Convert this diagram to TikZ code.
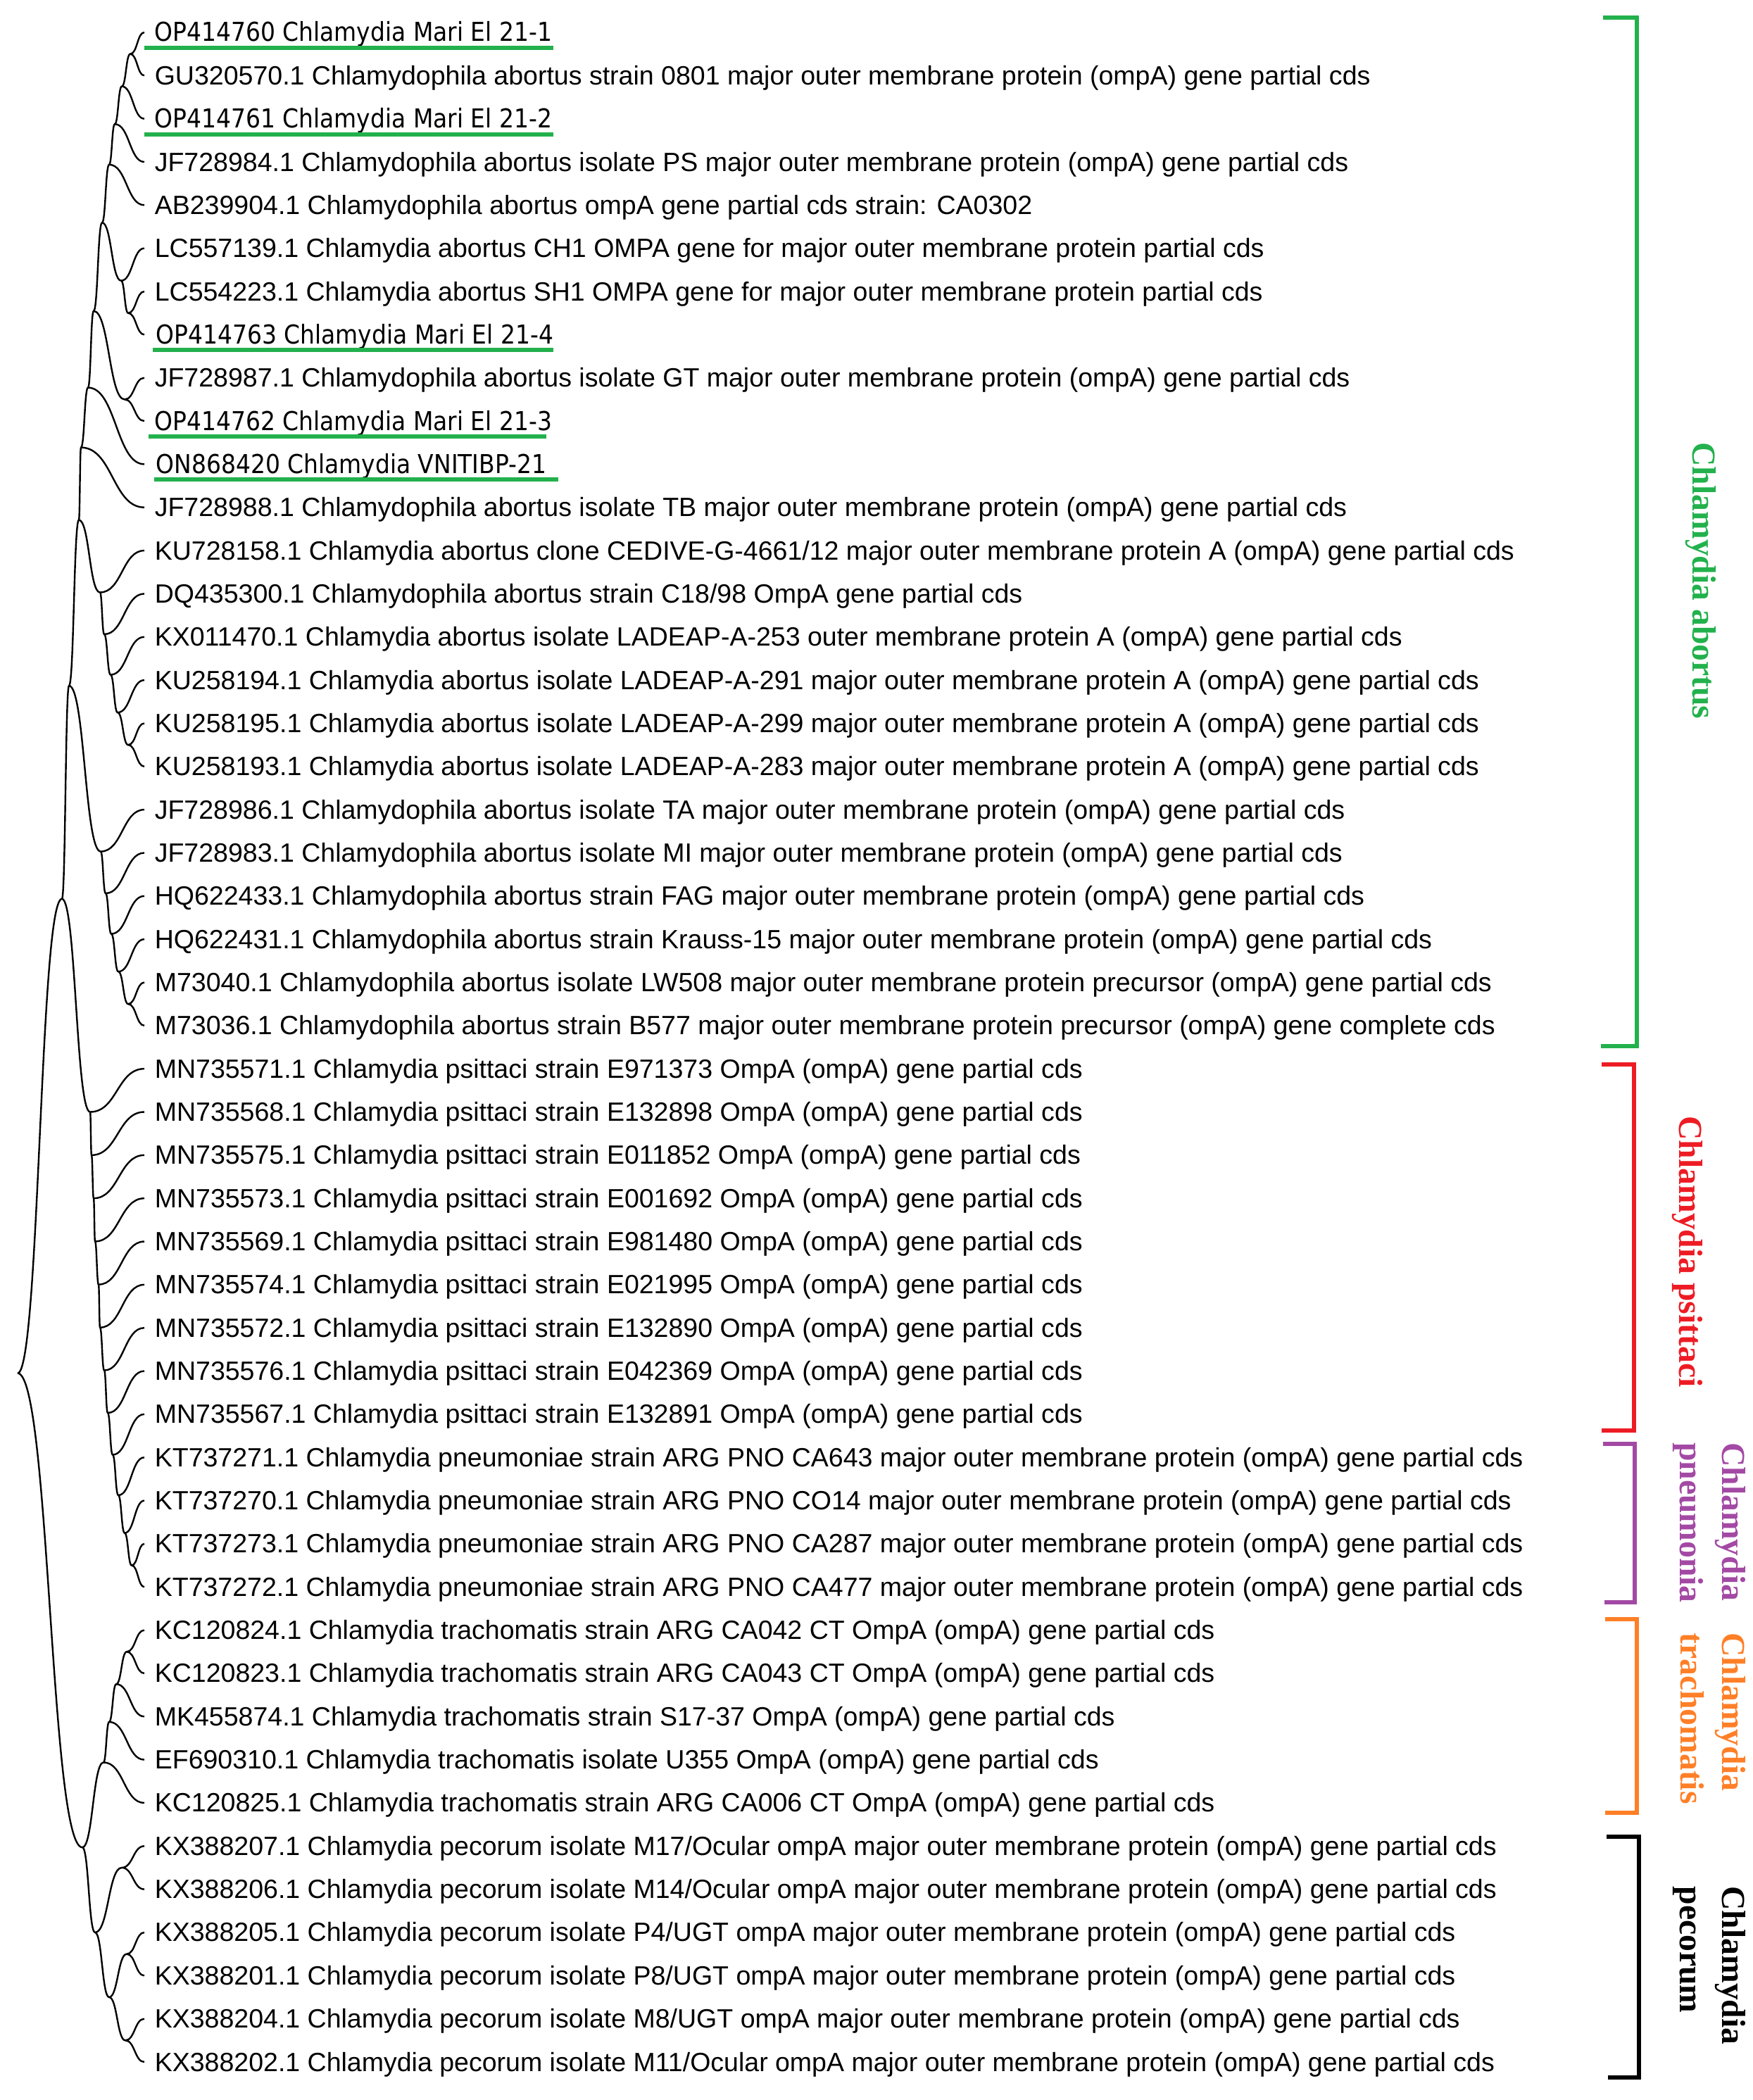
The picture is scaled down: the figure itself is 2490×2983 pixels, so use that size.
\documentclass[tikz,border=0pt]{standalone}
\usepackage{fontspec}
\setmainfont{Liberation Sans}
\newfontfamily\opfont[FakeStretch=0.89]{DejaVu Sans}
\newfontfamily\cladefont{Liberation Serif}
\usetikzlibrary{calc}
\definecolor{cgreen}{HTML}{22B14C}
\definecolor{cred}{HTML}{ED1C24}
\definecolor{cpurple}{HTML}{A349A4}
\definecolor{corange}{HTML}{FF7F27}
\begin{document}
\begin{tikzpicture}[x=0.25pt,y=-0.25pt,
  declare function={R(\k)=46+(\k-1)*61.34;},
  tree/.style={line width=0.6pt,black},
  br/.style={to path={let \p1=(\tikztostart), \p2=(\tikztotarget) in
     .. controls ({0.5*\x1+0.5*\x2},\y1) and ({0.5*\x1+0.5*\x2},\y2) .. (\tikztotarget)}},
  tip/.style={anchor=base west,inner sep=0pt,font=\fontsize{9.38pt}{11pt}\selectfont},
  optip/.style={anchor=base west,inner sep=0pt,font=\fontsize{9.25pt}{11pt}\opfont},
  uline/.style={cgreen,line width=1.5pt},
  brk/.style={line width=1.6pt,line join=miter},
  clade/.style={rotate=-90,inner sep=0pt,align=left,font=\fontsize{11.9pt}{14.8pt}\cladefont\bfseries}]
\useasboundingbox (0,0) rectangle (2490,2983);
% leaf ends
\foreach \k in {1,...,48} \coordinate (v\k) at (205,{R(\k)});
% internal nodes
\coordinate (a1) at (185,{R(1.5)});
\coordinate (a2) at (173,{R(2.25)});
\coordinate (a3) at (163,{R(3.125)});
\coordinate (a4) at (155,{R(4.0625)});
\coordinate (b1) at (182,{R(7.5)});
\coordinate (b2) at (172,{R(6.75)});
\coordinate (a5) at (145,{R(5.40625)});
\coordinate (b3) at (177,{R(9.5)});
\coordinate (a6) at (133,{R(7.453)});
\coordinate (a7) at (125,{R(9.2266)});
\coordinate (a8) at (115,{R(10.613)});
\coordinate (c1) at (182,{R(17.5)});
\coordinate (c2) at (167,{R(16.75)});
\coordinate (c3) at (157,{R(15.875)});
\coordinate (c4) at (148,{R(14.9375)});
\coordinate (c5) at (142,{R(13.96875)});
\coordinate (a9) at (112,{R(12.291)});
\coordinate (d1) at (182,{R(23.5)});
\coordinate (d2) at (168,{R(22.75)});
\coordinate (d3) at (158,{R(21.875)});
\coordinate (d4) at (150,{R(20.9375)});
\coordinate (d5) at (143,{R(19.96875)});
\coordinate (a10) at (98,{R(16.13)});
\coordinate (e12) at (187,{R(36.5)});
\coordinate (e11) at (177,{R(35.75)});
\coordinate (e10) at (168,{R(34.875)});
\coordinate (e9) at (160,{R(33.9375)});
\coordinate (e8) at (153,{R(32.96875)});
\coordinate (e7) at (148,{R(31.984)});
\coordinate (e6) at (142,{R(30.992)});
\coordinate (e5) at (140,{R(29.996)});
\coordinate (e4) at (135,{R(28.998)});
\coordinate (e3) at (133,{R(27.999)});
\coordinate (e2) at (130,{R(27.0)});
\coordinate (e1) at (128,{R(26.0)});
\coordinate (a11) at (88,{R(21.065)});
\coordinate (t1) at (180,{R(38.5)});
\coordinate (t2) at (165,{R(39.25)});
\coordinate (t3) at (155,{R(40.125)});
\coordinate (t4) at (147,{R(41.0625)});
\coordinate (p1) at (173,{R(43.5)});
\coordinate (p2) at (180,{R(45.5)});
\coordinate (p3) at (178,{R(47.5)});
\coordinate (p4) at (155,{R(46.5)});
\coordinate (p5) at (135,{R(45.0)});
\coordinate (bb) at (117,{R(43.03)});
\coordinate (root) at (25,{R(32.05)});
% branches
\draw[tree] (a1) to[br] (v1) (a1) to[br] (v2)
  (a2) to[br] (a1) (a2) to[br] (v3)
  (a3) to[br] (a2) (a3) to[br] (v4)
  (a4) to[br] (a3) (a4) to[br] (v5)
  (b1) to[br] (v7) (b1) to[br] (v8)
  (b2) to[br] (b1) (b2) to[br] (v6)
  (a5) to[br] (a4) (a5) to[br] (b2)
  (b3) to[br] (v9) (b3) to[br] (v10)
  (a6) to[br] (a5) (a6) to[br] (b3)
  (a7) to[br] (a6) (a7) to[br] (v11)
  (a8) to[br] (a7) (a8) to[br] (v12)
  (c1) to[br] (v17) (c1) to[br] (v18)
  (c2) to[br] (c1) (c2) to[br] (v16)
  (c3) to[br] (c2) (c3) to[br] (v15)
  (c4) to[br] (c3) (c4) to[br] (v14)
  (c5) to[br] (c4) (c5) to[br] (v13)
  (a9) to[br] (a8) (a9) to[br] (c5)
  (d1) to[br] (v23) (d1) to[br] (v24)
  (d2) to[br] (d1) (d2) to[br] (v22)
  (d3) to[br] (d2) (d3) to[br] (v21)
  (d4) to[br] (d3) (d4) to[br] (v20)
  (d5) to[br] (d4) (d5) to[br] (v19)
  (a10) to[br] (a9) (a10) to[br] (d5)
  (e12) to[br] (v36) (e12) to[br] (v37)
  (e11) to[br] (e12) (e11) to[br] (v35)
  (e10) to[br] (e11) (e10) to[br] (v34)
  (e9) to[br] (e10) (e9) to[br] (v33)
  (e8) to[br] (e9) (e8) to[br] (v32)
  (e7) to[br] (e8) (e7) to[br] (v31)
  (e6) to[br] (e7) (e6) to[br] (v30)
  (e5) to[br] (e6) (e5) to[br] (v29)
  (e4) to[br] (e5) (e4) to[br] (v28)
  (e3) to[br] (e4) (e3) to[br] (v27)
  (e2) to[br] (e3) (e2) to[br] (v26)
  (e1) to[br] (e2) (e1) to[br] (v25)
  (a11) to[br] (a10) (a11) to[br] (e1)
  (t1) to[br] (v38) (t1) to[br] (v39)
  (t2) to[br] (t1) (t2) to[br] (v40)
  (t3) to[br] (t2) (t3) to[br] (v41)
  (t4) to[br] (t3) (t4) to[br] (v42)
  (p1) to[br] (v43) (p1) to[br] (v44)
  (p2) to[br] (v45) (p2) to[br] (v46)
  (p3) to[br] (v47) (p3) to[br] (v48)
  (p4) to[br] (p2) (p4) to[br] (p3)
  (p5) to[br] (p1) (p5) to[br] (p4)
  (bb) to[br] (t4) (bb) to[br] (p5)
  (root) to[br] (a11) (root) to[br] (bb);
% tip labels
\node[optip] (L1) at (219,{R(1)+13}) {OP414760 Chlamydia Mari El 21-1};
\node[tip] (L2) at (219,{R(2)+13}) {GU320570.1 Chlamydophila abortus strain 0801 major outer membrane protein (ompA) gene partial cds};
\node[optip] (L3) at (219,{R(3)+13}) {OP414761 Chlamydia Mari El 21-2};
\node[tip] (L4) at (219,{R(4)+13}) {JF728984.1 Chlamydophila abortus isolate PS major outer membrane protein (ompA) gene partial cds};
\node[tip] (L5) at (219,{R(5)+13}) {AB239904.1 Chlamydophila abortus ompA gene partial cds strain: CA0302};
\node[tip] (L6) at (219,{R(6)+13}) {LC557139.1 Chlamydia abortus CH1 OMPA gene for major outer membrane protein partial cds};
\node[tip] (L7) at (219,{R(7)+13}) {LC554223.1 Chlamydia abortus SH1 OMPA gene for major outer membrane protein partial cds};
\node[optip] (L8) at (221,{R(8)+13}) {OP414763 Chlamydia Mari El 21-4};
\node[tip] (L9) at (219,{R(9)+13}) {JF728987.1 Chlamydophila abortus isolate GT major outer membrane protein (ompA) gene partial cds};
\node[optip] (L10) at (219,{R(10)+13}) {OP414762 Chlamydia Mari El 21-3};
\node[optip] (L11) at (221,{R(11)+13}) {ON868420 Chlamydia VNITIBP-21};
\node[tip] (L12) at (219,{R(12)+13}) {JF728988.1 Chlamydophila abortus isolate TB major outer membrane protein (ompA) gene partial cds};
\node[tip] (L13) at (219,{R(13)+13}) {KU728158.1 Chlamydia abortus clone CEDIVE-G-4661/12 major outer membrane protein A (ompA) gene partial cds};
\node[tip] (L14) at (219,{R(14)+13}) {DQ435300.1 Chlamydophila abortus strain C18/98 OmpA gene partial cds};
\node[tip] (L15) at (219,{R(15)+13}) {KX011470.1 Chlamydia abortus isolate LADEAP-A-253 outer membrane protein A (ompA) gene partial cds};
\node[tip] (L16) at (219,{R(16)+13}) {KU258194.1 Chlamydia abortus isolate LADEAP-A-291 major outer membrane protein A (ompA) gene partial cds};
\node[tip] (L17) at (219,{R(17)+13}) {KU258195.1 Chlamydia abortus isolate LADEAP-A-299 major outer membrane protein A (ompA) gene partial cds};
\node[tip] (L18) at (219,{R(18)+13}) {KU258193.1 Chlamydia abortus isolate LADEAP-A-283 major outer membrane protein A (ompA) gene partial cds};
\node[tip] (L19) at (219,{R(19)+13}) {JF728986.1 Chlamydophila abortus isolate TA major outer membrane protein (ompA) gene partial cds};
\node[tip] (L20) at (219,{R(20)+13}) {JF728983.1 Chlamydophila abortus isolate MI major outer membrane protein (ompA) gene partial cds};
\node[tip] (L21) at (219,{R(21)+13}) {HQ622433.1 Chlamydophila abortus strain FAG major outer membrane protein (ompA) gene partial cds};
\node[tip] (L22) at (219,{R(22)+13}) {HQ622431.1 Chlamydophila abortus strain Krauss-15 major outer membrane protein (ompA) gene partial cds};
\node[tip] (L23) at (219,{R(23)+13}) {M73040.1 Chlamydophila abortus isolate LW508 major outer membrane protein precursor (ompA) gene partial cds};
\node[tip] (L24) at (219,{R(24)+13}) {M73036.1 Chlamydophila abortus strain B577 major outer membrane protein precursor (ompA) gene complete cds};
\node[tip] (L25) at (219,{R(25)+13}) {MN735571.1 Chlamydia psittaci strain E971373 OmpA (ompA) gene partial cds};
\node[tip] (L26) at (219,{R(26)+13}) {MN735568.1 Chlamydia psittaci strain E132898 OmpA (ompA) gene partial cds};
\node[tip] (L27) at (219,{R(27)+13}) {MN735575.1 Chlamydia psittaci strain E011852 OmpA (ompA) gene partial cds};
\node[tip] (L28) at (219,{R(28)+13}) {MN735573.1 Chlamydia psittaci strain E001692 OmpA (ompA) gene partial cds};
\node[tip] (L29) at (219,{R(29)+13}) {MN735569.1 Chlamydia psittaci strain E981480 OmpA (ompA) gene partial cds};
\node[tip] (L30) at (219,{R(30)+13}) {MN735574.1 Chlamydia psittaci strain E021995 OmpA (ompA) gene partial cds};
\node[tip] (L31) at (219,{R(31)+13}) {MN735572.1 Chlamydia psittaci strain E132890 OmpA (ompA) gene partial cds};
\node[tip] (L32) at (219,{R(32)+13}) {MN735576.1 Chlamydia psittaci strain E042369 OmpA (ompA) gene partial cds};
\node[tip] (L33) at (219,{R(33)+13}) {MN735567.1 Chlamydia psittaci strain E132891 OmpA (ompA) gene partial cds};
\node[tip] (L34) at (219,{R(34)+13}) {KT737271.1 Chlamydia pneumoniae strain ARG PNO CA643 major outer membrane protein (ompA) gene partial cds};
\node[tip] (L35) at (219,{R(35)+13}) {KT737270.1 Chlamydia pneumoniae strain ARG PNO CO14 major outer membrane protein (ompA) gene partial cds};
\node[tip] (L36) at (219,{R(36)+13}) {KT737273.1 Chlamydia pneumoniae strain ARG PNO CA287 major outer membrane protein (ompA) gene partial cds};
\node[tip] (L37) at (219,{R(37)+13}) {KT737272.1 Chlamydia pneumoniae strain ARG PNO CA477 major outer membrane protein (ompA) gene partial cds};
\node[tip] (L38) at (219,{R(38)+13}) {KC120824.1 Chlamydia trachomatis strain ARG CA042 CT OmpA (ompA) gene partial cds};
\node[tip] (L39) at (219,{R(39)+13}) {KC120823.1 Chlamydia trachomatis strain ARG CA043 CT OmpA (ompA) gene partial cds};
\node[tip] (L40) at (219,{R(40)+13}) {MK455874.1 Chlamydia trachomatis strain S17-37 OmpA (ompA) gene partial cds};
\node[tip] (L41) at (219,{R(41)+13}) {EF690310.1 Chlamydia trachomatis isolate U355 OmpA (ompA) gene partial cds};
\node[tip] (L42) at (219,{R(42)+13}) {KC120825.1 Chlamydia trachomatis strain ARG CA006 CT OmpA (ompA) gene partial cds};
\node[tip] (L43) at (219,{R(43)+13}) {KX388207.1 Chlamydia pecorum isolate M17/Ocular ompA major outer membrane protein (ompA) gene partial cds};
\node[tip] (L44) at (219,{R(44)+13}) {KX388206.1 Chlamydia pecorum isolate M14/Ocular ompA major outer membrane protein (ompA) gene partial cds};
\node[tip] (L45) at (219,{R(45)+13}) {KX388205.1 Chlamydia pecorum isolate P4/UGT ompA major outer membrane protein (ompA) gene partial cds};
\node[tip] (L46) at (219,{R(46)+13}) {KX388201.1 Chlamydia pecorum isolate P8/UGT ompA major outer membrane protein (ompA) gene partial cds};
\node[tip] (L47) at (219,{R(47)+13}) {KX388204.1 Chlamydia pecorum isolate M8/UGT ompA major outer membrane protein (ompA) gene partial cds};
\node[tip] (L48) at (219,{R(48)+13}) {KX388202.1 Chlamydia pecorum isolate M11/Ocular ompA major outer membrane protein (ompA) gene partial cds};
% green underlines
\draw[uline] (205,{R(1)+22}) -- (786,{R(1)+22});
\draw[uline] (205,{R(3)+22}) -- (786,{R(3)+22});
\draw[uline] (217,{R(8)+22}) -- (786,{R(8)+22});
\draw[uline] (211,{R(10)+22}) -- (776,{R(10)+22});
\draw[uline] (219,{R(11)+22}) -- (793,{R(11)+22});
% brackets
\draw[brk,cgreen] (2277,25) -- (2325,25) -- (2325,1486) -- (2274,1486);
\draw[brk,cred] (2275,1512) -- (2321,1512) -- (2321,2032) -- (2275,2032);
\draw[brk,cpurple] (2277,2051) -- (2322,2051) -- (2322,2276) -- (2279,2276);
\draw[brk,corange] (2280,2300) -- (2325,2300) -- (2325,2575) -- (2280,2575);
\draw[brk,black] (2282,2609) -- (2328,2609) -- (2328,2951) -- (2284,2951);
% clade labels
\node[clade,text=cgreen] (lab1) at (2416,825) {Chlamydia abortus};
\node[clade,text=cred] (lab2) at (2397,1778) {Chlamydia psittaci};
\node[clade,text=cpurple] (lab3) at (2428,2163) {Chlamydia\\pneumonia};
\node[clade,text=corange] (lab4) at (2433,2441) {Chlamydia\\trachomatis};
\node[clade,text=black] (lab5) at (2428,2792) {Chlamydia\\pecorum};
\end{tikzpicture}
\end{document}
